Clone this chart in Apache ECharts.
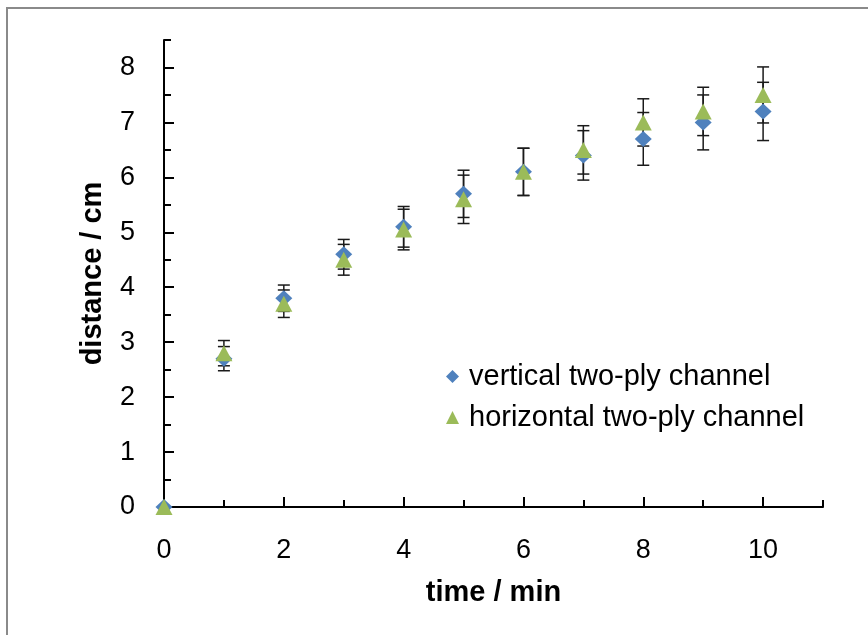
<!DOCTYPE html>
<html>
<head>
<meta charset="utf-8">
<script src="https://cdn.jsdelivr.net/npm/echarts@6/dist/echarts.min.js"></script>
<style>
  html, body { margin: 0; padding: 0; background: #fff; }
  #chart { width: 868px; height: 635px; }
</style>
</head>
<body>
<div id="chart"></div>
<script>
// time / min
var times = [0, 1, 2, 3, 4, 5, 6, 7, 8, 9, 10];
// distance / cm
var verticalDist = [0, 2.7, 3.8, 4.6, 5.1, 5.7, 6.1, 6.4, 6.7, 7.0, 7.2];
var horizontalDist = [0, 2.8, 3.7, 4.5, 5.05, 5.6, 6.1, 6.5, 7.0, 7.2, 7.5];
// error bar half-widths
var verticalErr = [0, 0.22, 0.24, 0.27, 0.37, 0.43, 0.43, 0.45, 0.48, 0.5, 0.53];
var horizontalErr = [0, 0.23, 0.25, 0.28, 0.37, 0.44, 0.43, 0.44, 0.43, 0.44, 0.51];
// tick labels
var xTickLabels = [0, 2, 4, 6, 8, 10];
var xMinorTicks = [1, 3, 5, 7, 9, 11];
var yTickLabels = [0, 1, 2, 3, 4, 5, 6, 7, 8];
var yMinorTicks = [0.5, 1.5, 2.5, 3.5, 4.5, 5.5, 6.5, 7.5, 8.5];

function points (vals) {
  return times.map(function (t, i) { return [t, vals[i]]; });
}

function bars (vals, errs) {
  var out = [];
  times.forEach(function (t, i) {
    if (errs[i] > 0) out.push([t, vals[i] - errs[i], vals[i] + errs[i]]);
  });
  return out;
}

function renderErr (params, api) {
  var x = api.value(0);
  var lo = api.coord([x, api.value(1)]);
  var hi = api.coord([x, api.value(2)]);
  var w = 6;
  var style = { stroke: '#1a1a1a', lineWidth: 1.5 };
  return {
    type: 'group',
    children: [
      { type: 'line', shape: { x1: hi[0], y1: hi[1], x2: lo[0], y2: lo[1] }, style: style },
      { type: 'line', shape: { x1: hi[0] - w, y1: hi[1], x2: hi[0] + w, y2: hi[1] }, style: style },
      { type: 'line', shape: { x1: lo[0] - w, y1: lo[1], x2: lo[0] + w, y2: lo[1] }, style: style }
    ]
  };
}

var axisLineStyle = { color: '#000', width: 2 };
var font = 'Liberation Sans, Arial, sans-serif';

var myChart = echarts.init(document.getElementById('chart'));
var option = {
  backgroundColor: '#fff',
  animation: false,
  graphic: [{
    type: 'rect',
    shape: { x: 7, y: 8, width: 900, height: 700 },
    style: { fill: 'none', stroke: '#8a8a8a', lineWidth: 2 },
    silent: true
  }],
  grid: { left: 164, right: 45, top: 40, bottom: 128 },
  legend: {
    orient: 'vertical',
    left: 446,
    top: 362,
    padding: 0,
    itemGap: 12,
    itemWidth: 13,
    itemHeight: 13,
    textStyle: { fontFamily: font, fontSize: 29, color: '#000', lineHeight: 29, padding: [0, 0, 0, 5] },
    data: [
      { name: 'vertical two-ply channel', icon: 'diamond' },
      { name: 'horizontal two-ply channel', icon: 'triangle' }
    ]
  },
  xAxis: [{
    type: 'value',
    min: 0,
    max: 11,
    position: 'bottom',
    name: 'time / min',
    nameLocation: 'middle',
    nameGap: 71,
    nameTextStyle: { fontFamily: font, fontSize: 29, fontWeight: 'bold', color: '#000' },
    axisLine: { onZero: false, lineStyle: axisLineStyle },
    axisTick: { inside: true, length: 10, customValues: xTickLabels, lineStyle: axisLineStyle },
    axisLabel: { customValues: xTickLabels, fontFamily: font, fontSize: 27, color: '#000', margin: 30 },
    splitLine: { show: false }
  }, {
    type: 'value',
    min: 0,
    max: 11,
    position: 'bottom',
    axisLine: { show: false, onZero: false },
    axisTick: { inside: true, length: 7, customValues: xMinorTicks, lineStyle: axisLineStyle },
    axisLabel: { show: false },
    splitLine: { show: false }
  }],
  yAxis: [{
    type: 'value',
    min: 0,
    max: 8.5,
    position: 'left',
    name: 'distance / cm',
    nameLocation: 'middle',
    nameGap: 57,
    nameTextStyle: { fontFamily: font, fontSize: 29, fontWeight: 'bold', color: '#000' },
    axisLine: { show: true, onZero: false, lineStyle: axisLineStyle },
    axisTick: { show: true, inside: true, length: 10, customValues: yTickLabels, lineStyle: axisLineStyle },
    axisLabel: { customValues: yTickLabels, fontFamily: font, fontSize: 27, color: '#000', margin: 29 },
    splitLine: { show: false }
  }, {
    type: 'value',
    min: 0,
    max: 8.5,
    position: 'left',
    axisLine: { show: false, onZero: false },
    axisTick: { show: true, inside: true, length: 7, customValues: yMinorTicks, lineStyle: axisLineStyle },
    axisLabel: { show: false },
    splitLine: { show: false }
  }],
  series: [{
    type: 'custom',
    renderItem: renderErr,
    data: bars(verticalDist, verticalErr),
    encode: { x: 0, y: [1, 2] },
    clip: false,
    z: 1
  }, {
    type: 'custom',
    renderItem: renderErr,
    data: bars(horizontalDist, horizontalErr),
    encode: { x: 0, y: [1, 2] },
    clip: false,
    z: 1
  }, {
    name: 'vertical two-ply channel',
    type: 'scatter',
    symbol: 'diamond',
    symbolSize: [17, 16],
    itemStyle: { color: '#4f81bd', opacity: 1 },
    data: points(verticalDist),
    clip: false,
    z: 3
  }, {
    name: 'horizontal two-ply channel',
    type: 'scatter',
    symbol: 'triangle',
    symbolSize: [17, 16],
    itemStyle: { color: '#9bbb59', opacity: 1 },
    data: points(horizontalDist),
    clip: false,
    z: 4
  }]
};
myChart.setOption(option);
</script>
</body>
</html>
